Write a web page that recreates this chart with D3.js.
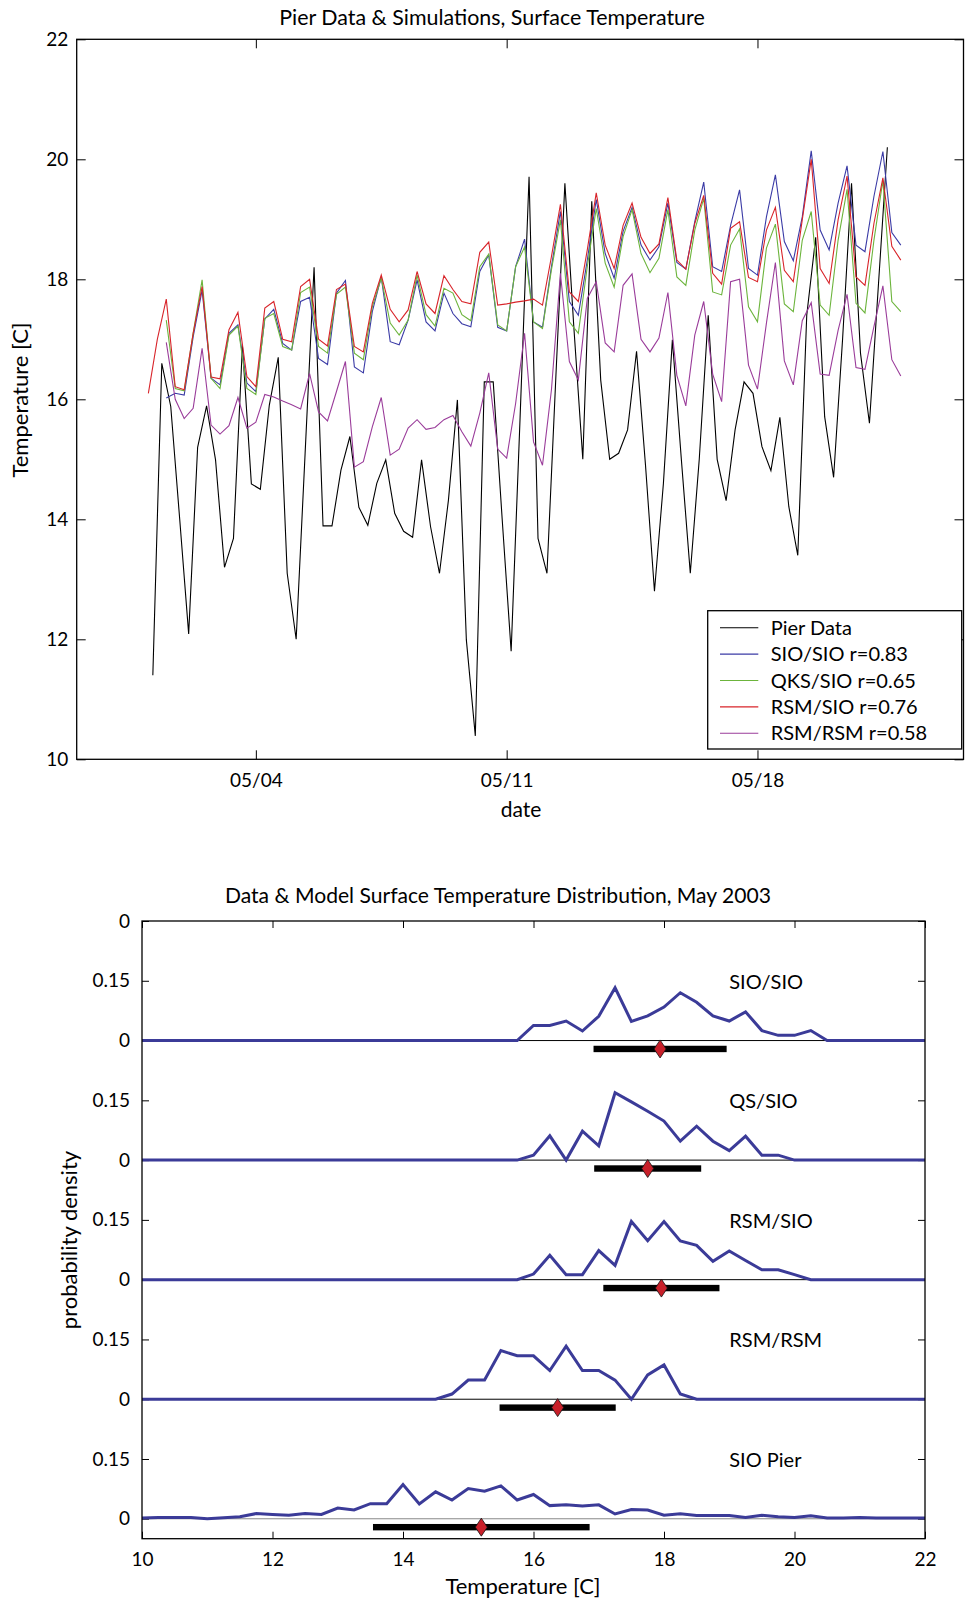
<!DOCTYPE html>
<html>
<head>
<meta charset="utf-8">
<script src="https://cdn.jsdelivr.net/npm/d3@7"></script>
<style>
  body { margin: 0; background: #fff; }
  svg { display: block; font-family: Lato, "Open Sans", sans-serif; }
</style>
</head>
<body>
<svg id="chart" width="965" height="1599"></svg>
<script>
  // ---- top panel: 6-hourly series ----
  const modelStart = Date.UTC(2003, 4, 1, 0)   // model output starts 05/01 00:00
  const pierStart = Date.UTC(2003, 4, 1, 3)    // pier samples are offset by 3 h
  const stepMs = 6 * 3600 * 1000

  const pierData = [11.4, 16.6, 15.88, 14.0, 12.09, 15.2, 15.89, 14.99, 13.2, 13.68,
    16.89, 14.59, 14.5, 15.9, 16.7, 13.1, 12.0, 15.1, 18.2, 13.89,
    13.89, 14.82, 15.38, 14.2, 13.9, 14.6, 14.99, 14.1, 13.8, 13.7,
    14.99, 13.88, 13.1, 14.32, 15.99, 11.99, 10.39, 16.29, 16.29, 14.0,
    11.8, 15.7, 19.71, 13.68, 13.1, 16.4, 19.6, 17.2, 15.0, 19.3,
    16.32, 15.0, 15.1, 15.49, 16.8, 14.9, 12.8, 14.6, 16.99, 15.0,
    13.1, 15.0, 17.4, 15.0, 14.31, 15.49, 16.29, 16.1, 15.21, 14.81,
    15.7, 14.21, 13.4, 17.4, 18.7, 15.71, 14.7, 17.0, 19.6, 16.77,
    15.6, 17.9, 20.2]

  const sioSio = [null, null, 16.02, 16.10, 16.07, 17.04, 17.82, 16.35, 16.24, 17.1,
    17.24, 16.27, 16.13, 17.34, 17.5, 16.93, 16.82, 17.63, 17.7, 16.68,
    16.58, 17.77, 17.98, 16.54, 16.44, 17.46, 18.04, 16.96, 16.91, 17.32,
    17.99, 17.29, 17.14, 17.77, 17.43, 17.26, 17.21, 18.13, 18.41, 17.2,
    17.14, 18.21, 18.67, 17.29, 17.2, 18.21, 19.13, 17.63, 17.4, 18.32,
    19.33, 18.43, 18.02, 18.8, 19.2, 18.57, 18.32, 18.54, 19.27, 18.28,
    18.17, 18.96, 19.62, 18.21, 18.13, 18.9, 19.49, 18.18, 18.07, 19.04,
    19.74, 18.63, 18.31, 19.04, 20.14, 18.82, 18.49, 19.27, 19.89, 18.57,
    18.46, 19.38, 20.13, 18.78, 18.57]

  const qksSio = [null, null, 17.32, 16.18, 16.14, 17.1, 17.99, 16.35, 16.18, 17.07,
    17.22, 16.18, 16.08, 17.35, 17.43, 16.88, 16.82, 17.78, 17.87, 16.88,
    16.77, 17.75, 17.87, 16.77, 16.66, 17.54, 18.02, 17.27, 17.07, 17.32,
    18.07, 17.41, 17.22, 17.85, 17.77, 17.41, 17.31, 18.21, 18.42, 17.24,
    17.14, 18.21, 18.54, 17.29, 17.18, 18.16, 18.99, 17.29, 17.1, 18.21,
    19.18, 18.27, 17.87, 18.71, 19.16, 18.43, 18.11, 18.35, 19.16, 18.04,
    17.9, 18.82, 19.35, 17.79, 17.74, 18.57, 18.84, 17.54, 17.29, 18.52,
    18.92, 17.59, 17.46, 18.65, 19.13, 17.57, 17.4, 18.65, 19.5, 17.6,
    17.44, 18.65, 19.65, 17.63, 17.46]

  const rsmSio = [16.10, 17.0, 17.67, 16.21, 16.16, 17.1, 17.88, 16.37, 16.34, 17.16,
    17.45, 16.38, 16.21, 17.52, 17.63, 17.0, 16.96, 17.88, 18.0, 17.0,
    16.89, 17.83, 17.92, 16.88, 16.79, 17.6, 18.07, 17.5, 17.29, 17.49,
    18.13, 17.59, 17.43, 18.06, 17.83, 17.63, 17.59, 18.45, 18.62, 17.57,
    17.59, 17.62, 17.64, 17.67, 17.57, 18.38, 19.25, 17.79, 17.63, 18.49,
    19.44, 18.57, 18.18, 18.9, 19.27, 18.7, 18.43, 18.59, 19.36, 18.32,
    18.17, 18.93, 19.4, 18.1, 17.92, 18.85, 18.96, 18.03, 17.96, 18.82,
    19.2, 18.15, 17.96, 18.99, 20.0, 18.18, 17.93, 18.99, 19.72, 18.04,
    17.9, 18.93, 19.69, 18.55, 18.32]

  const rsmRsm = [null, null, 16.95, 16.0, 15.68, 15.85, 16.85, 15.57, 15.42, 15.56,
    16.03, 15.52, 15.62, 16.08, 16.04, 15.97, 15.91, 15.84, 16.43, 15.79,
    15.64, 16.13, 16.63, 14.87, 14.96, 15.54, 16.03, 15.07, 15.17, 15.52,
    15.66, 15.5, 15.53, 15.66, 15.73, 15.46, 15.22, 15.77, 16.44, 15.17,
    15.02, 15.93, 17.1, 15.29, 14.9, 16.16, 18.1, 16.63, 16.32, 17.68,
    17.96, 16.94, 16.79, 17.9, 18.09, 17.0, 16.79, 17.02, 17.78, 16.4,
    15.89, 17.07, 17.63, 16.42, 15.96, 17.96, 18.0, 16.57, 16.17, 17.27,
    18.28, 16.64, 16.24, 17.31, 17.61, 16.42, 16.4, 17.15, 17.75, 16.53,
    16.5, 17.21, 17.89, 16.66, 16.39]

  const seriesNames = ["Pier Data", "SIO/SIO r=0.83", "QKS/SIO r=0.65", "RSM/SIO r=0.76", "RSM/RSM r=0.58"]
  const seriesColors = ["#000000", "#3b3ba6", "#6cb43c", "#d8242a", "#9a3c9a"]
  const dateTicks = ["2003-05-04", "2003-05-11", "2003-05-18"]
  const tempTicks = [10, 12, 14, 16, 18, 20, 22]

  // ---- bottom panel: binned distributions (0.25 C bins from 10 to 22) ----
  const binStart = 10
  const binStep = 0.25
  const pdfNames = ["SIO/SIO", "QS/SIO", "RSM/SIO", "RSM/RSM", "SIO Pier"]
  const pdfSioSio = [0, 0, 0, 0, 0, 0, 0, 0, 0, 0, 0, 0, 0, 0, 0, 0, 0, 0, 0, 0, 0, 0, 0, 0,
    0.038, 0.038, 0.049, 0.024, 0.061, 0.1325, 0.048, 0.062, 0.084, 0.12, 0.096, 0.062,
    0.049, 0.072, 0.025, 0.013, 0.013, 0.025, 0, 0, 0, 0, 0, 0, 0]
  const pdfQsSio = [0, 0, 0, 0, 0, 0, 0, 0, 0, 0, 0, 0, 0, 0, 0, 0, 0, 0, 0, 0, 0, 0, 0, 0,
    0.0125, 0.061, 0, 0.0725, 0.036, 0.169, 0.146, 0.1225, 0.098, 0.0475, 0.085, 0.0475,
    0.024, 0.06, 0.0125, 0.0125, 0, 0, 0, 0, 0, 0, 0, 0, 0]
  const pdfRsmSio = [0, 0, 0, 0, 0, 0, 0, 0, 0, 0, 0, 0, 0, 0, 0, 0, 0, 0, 0, 0, 0, 0, 0, 0,
    0.014, 0.061, 0.0125, 0.0125, 0.073, 0.036, 0.146, 0.098, 0.146, 0.097, 0.086, 0.046,
    0.072, 0.048, 0.025, 0.025, 0.0125, 0, 0, 0, 0, 0, 0, 0, 0]
  const pdfRsmRsm = [0, 0, 0, 0, 0, 0, 0, 0, 0, 0, 0, 0, 0, 0, 0, 0, 0, 0, 0,
    0.013, 0.048, 0.048, 0.122, 0.109, 0.109, 0.072, 0.133, 0.072, 0.072, 0.048, 0,
    0.061, 0.086, 0.013, 0, 0, 0, 0, 0, 0, 0, 0, 0, 0, 0, 0, 0, 0, 0]
  const pdfPier = [0.002, 0.003, 0.003, 0.003, 0, 0.0025, 0.005, 0.013, 0.011, 0.009,
    0.013, 0.011, 0.027, 0.022, 0.038, 0.038, 0.086, 0.037, 0.0675, 0.047,
    0.076, 0.069, 0.0825, 0.047, 0.061, 0.033, 0.035, 0.032, 0.035, 0.012,
    0.023, 0.022, 0.009, 0.0125, 0.008, 0.008, 0.008, 0.003, 0.009, 0.005,
    0.003, 0.0075, 0.002, 0.002, 0.003, 0.002, 0.002, 0.002, 0.002]
  const pdfMeans = [17.94, 17.75, 17.96, 16.37, 15.20]
  const pdfStds = [1.02, 0.82, 0.89, 0.89, 1.66]
  const panelStep = 0.3
  const densityLabels = ["0", "0.15", "0", "0.15", "0", "0.15", "0", "0.15", "0", "0.15", "0"]
  const tempTicksB = [10, 12, 14, 16, 18, 20, 22]

  const svg = d3.select("#chart")
  const FS = 19

  function styleAxis(g) {
    g.select(".domain").remove()
    g.selectAll(".tick line").attr("stroke", "#000")
    g.attr("font-family", null).attr("font-size", FS)
    g.selectAll(".tick text").attr("fill", "#000")
  }

  // =========================== top chart ===========================
  const T = { left: 76.7, right: 963.5, top: 39.3, bottom: 759.3 }
  const x = d3.scaleUtc()
    .domain([Date.UTC(2003, 3, 29), Date.UTC(2003, 4, 23, 18)])
    .range([T.left, T.right])
  const y = d3.scaleLinear().domain([10, 22]).range([T.bottom, T.top])
  const tickDates = dateTicks.map(d => d3.utcParse("%Y-%m-%d")(d))

  svg.append("g").attr("transform", `translate(0,${T.bottom})`)
    .call(d3.axisBottom(x).tickValues(tickDates).tickSize(-9).tickPadding(14)
      .tickFormat(d3.utcFormat("%m/%d")))
    .call(styleAxis)
  svg.append("g").attr("transform", `translate(0,${T.top})`)
    .call(d3.axisTop(x).tickValues(tickDates).tickSize(-9).tickFormat(""))
    .call(styleAxis)
  svg.append("g").attr("transform", `translate(${T.left},0)`)
    .call(d3.axisLeft(y).tickValues(tempTicks).tickSize(-9).tickPadding(8.5))
    .call(styleAxis)
  svg.append("g").attr("transform", `translate(${T.right},0)`)
    .call(d3.axisRight(y).tickValues(tempTicks).tickSize(-9).tickFormat(""))
    .call(styleAxis)

  svg.append("clipPath").attr("id", "clipTop")
    .append("rect").attr("x", T.left).attr("y", T.top)
    .attr("width", T.right - T.left).attr("height", T.bottom - T.top)

  const toPoints = (vals, start) => vals.map((v, i) => ({ t: new Date(start + i * stepMs), v }))
  const series = [
    toPoints(pierData, pierStart),
    toPoints(sioSio, modelStart),
    toPoints(qksSio, modelStart),
    toPoints(rsmSio, modelStart),
    toPoints(rsmRsm, modelStart)
  ]
  const line = d3.line()
    .defined(d => d.v != null)
    .x(d => x(d.t))
    .y(d => y(d.v))

  svg.append("g").attr("clip-path", "url(#clipTop)")
    .selectAll("path")
    .data(series)
    .enter().append("path")
      .attr("d", line)
      .attr("fill", "none")
      .attr("stroke", (d, i) => seriesColors[i])
      .attr("stroke-width", 1.1)
      .attr("stroke-linejoin", "miter")

  svg.append("rect")
    .attr("x", T.left).attr("y", T.top)
    .attr("width", T.right - T.left).attr("height", T.bottom - T.top)
    .attr("fill", "none").attr("stroke", "#000").attr("stroke-width", 1.3)

  // legend
  const lg = svg.append("g").attr("transform", "translate(707.7,610.7)")
  lg.append("rect").attr("width", 254).attr("height", 138.3)
    .attr("fill", "#fff").attr("stroke", "#000").attr("stroke-width", 1.3)
  const items = lg.selectAll("g.item").data(seriesNames).enter().append("g")
    .attr("transform", (d, i) => `translate(0,${17 + i * 26.4})`)
  items.append("line").attr("x1", 12.3).attr("x2", 50.6)
    .attr("stroke", (d, i) => seriesColors[i]).attr("stroke-width", 1.1)
  items.append("text").attr("x", 63).attr("dy", "0.35em")
    .attr("font-size", 20).text(d => d)

  svg.append("text").attr("x", 492).attr("y", 17.3).attr("dy", "0.35em")
    .attr("text-anchor", "middle").attr("font-size", 21.4)
    .text("Pier Data & Simulations, Surface Temperature")
  svg.append("text").attr("x", 521).attr("y", 810).attr("dy", "0.35em")
    .attr("text-anchor", "middle").attr("font-size", 21).text("date")
  svg.append("text").attr("transform", "translate(20.4,400) rotate(-90)")
    .attr("dy", "0.35em").attr("text-anchor", "middle").attr("font-size", 22)
    .text("Temperature [C]")

  // =========================== bottom chart ===========================
  const B = { left: 142, right: 925, top: 921, bottom: 1538.7 }
  const xb = d3.scaleLinear().domain([10, 22]).range([B.left, B.right])
  const yb = d3.scaleLinear().domain([-0.05, 1.5]).range([B.bottom, B.top])
  const densityTicks = densityLabels.map((d, i) => i * 0.15)

  svg.append("g").attr("transform", `translate(${B.left},0)`)
    .call(d3.axisLeft(yb).tickValues(densityTicks).tickSize(-7).tickPadding(12)
      .tickFormat((d, i) => densityLabels[i]))
    .call(styleAxis)
  svg.append("g").attr("transform", `translate(${B.right},0)`)
    .call(d3.axisRight(yb).tickValues(densityTicks).tickSize(-7).tickFormat(""))
    .call(styleAxis)
  svg.append("g").attr("transform", `translate(0,${B.bottom})`)
    .call(d3.axisBottom(xb).tickValues(tempTicksB).tickSize(-7).tickPadding(14.3))
    .call(styleAxis)
  svg.append("g").attr("transform", `translate(0,${B.top})`)
    .call(d3.axisTop(xb).tickValues(tempTicksB).tickSize(-7).tickFormat(""))
    .call(styleAxis)

  const pdfs = [pdfSioSio, pdfQsSio, pdfRsmSio, pdfRsmRsm, pdfPier]
  const pdfLine = d3.line()
    .x((d, k) => xb(binStart + k * binStep))

  pdfs.forEach((vals, p) => {
    const base = (pdfs.length - 1 - p) * panelStep
    const g = svg.append("g")
    g.append("line")
      .attr("x1", B.left).attr("x2", B.right)
      .attr("y1", yb(base)).attr("y2", yb(base))
      .attr("stroke", p === pdfs.length - 1 ? "#888" : "#000").attr("stroke-width", 1)
    g.append("path")
      .attr("d", pdfLine.y(d => yb(base + d))(vals))
      .attr("fill", "none").attr("stroke", "#3b3b98").attr("stroke-width", 3)
    const barY = yb(base) + 8.4
    g.append("rect")
      .attr("x", xb(pdfMeans[p] - pdfStds[p]))
      .attr("width", xb(pdfMeans[p] + pdfStds[p]) - xb(pdfMeans[p] - pdfStds[p]))
      .attr("y", barY - 3.2).attr("height", 6.4).attr("fill", "#000")
    const mx = xb(pdfMeans[p])
    g.append("path")
      .attr("d", `M${mx},${barY - 9}L${mx + 6},${barY}L${mx},${barY + 9}L${mx - 6},${barY}Z`)
      .attr("fill", "#c8202a").attr("stroke", "#111").attr("stroke-width", 0.8)
    g.append("text")
      .attr("x", xb(19.0)).attr("y", yb(base + 0.15) + 1).attr("dy", "0.35em")
      .attr("font-size", 20).text(pdfNames[p])
  })

  svg.append("rect")
    .attr("x", B.left).attr("y", B.top)
    .attr("width", B.right - B.left).attr("height", B.bottom - B.top)
    .attr("fill", "none").attr("stroke", "#000").attr("stroke-width", 1.3)

  svg.append("text").attr("x", 498).attr("y", 895.7).attr("dy", "0.35em")
    .attr("text-anchor", "middle").attr("font-size", 21.1)
    .text("Data & Model Surface Temperature Distribution, May 2003")
  svg.append("text").attr("x", 523).attr("y", 1586).attr("dy", "0.35em")
    .attr("text-anchor", "middle").attr("font-size", 22).text("Temperature [C]")
  svg.append("text").attr("transform", "translate(69.4,1240) rotate(-90)")
    .attr("dy", "0.35em").attr("text-anchor", "middle").attr("font-size", 22)
    .text("probability density")
</script>
</body>
</html>
